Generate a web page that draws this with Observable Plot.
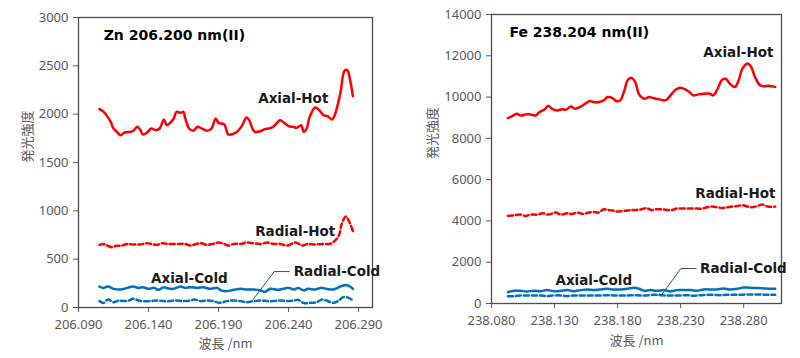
<!DOCTYPE html>
<html><head><meta charset="utf-8">
<script src="https://cdn.jsdelivr.net/npm/d3@7"></script>
<script src="https://cdn.jsdelivr.net/npm/@observablehq/plot@0.6"></script>
<style>body{margin:0;background:#fff}#wrap{display:flex;width:800px;height:358px}#wrap svg{overflow:visible}</style>
</head><body><div id="wrap"></div>
<script>
// ---------- Zn panel ----------
const znTitle = "Zn 206.200 nm(II)";
const znXTicks = [206.090, 206.140, 206.190, 206.240, 206.290];
const znYTicks = [0, 500, 1000, 1500, 2000, 2500, 3000];
const znAxialHotX = [206.105,206.108,206.110,206.113,206.115,206.117,206.120,206.123,206.127,206.129,206.132,206.134,206.136,206.139,206.142,206.145,206.148,206.151,206.153,206.155,206.158,206.160,206.163,206.165,206.166,206.169,206.172,206.175,206.178,206.182,206.185,206.188,206.190,206.194,206.197,206.201,206.204,206.207,206.210,206.212,206.214,206.216,206.220,206.223,206.226,206.229,206.234,206.236,206.240,206.243,206.246,206.249,206.251,206.253,206.255,206.259,206.262,206.265,206.268,206.271,206.273,206.277,206.280,206.282,206.284,206.286];
const znAxialHotY = [2052,2024,1990,1921,1852,1824,1783,1810,1817,1828,1869,1841,1790,1810,1852,1834,1852,1945,1886,1903,1955,2024,2014,2024,1972,1852,1828,1869,1852,1828,1852,1955,1910,1897,1790,1800,1828,1886,1966,1938,1859,1817,1824,1845,1852,1869,1938,1921,1876,1869,1859,1886,1817,1852,1966,2069,2041,1990,1979,1945,1990,2214,2448,2455,2352,2186];
const znRadialHotX = [206.105,206.108,206.111,206.114,206.117,206.121,206.125,206.129,206.134,206.139,206.142,206.146,206.150,206.153,206.158,206.163,206.166,206.170,206.173,206.177,206.182,206.186,206.190,206.194,206.197,206.201,206.206,206.210,206.215,206.220,206.225,206.229,206.234,206.239,206.245,206.250,206.254,206.259,206.264,206.269,206.272,206.276,206.278,206.281,206.283,206.286];
const znRadialHotY = [648,658,638,624,638,641,658,652,652,665,658,648,665,658,658,658,658,641,652,665,648,658,672,658,641,658,658,672,665,658,672,658,658,641,672,641,658,652,658,658,676,745,865,941,900,790];
const znAxialColdX = [206.105,206.108,206.111,206.115,206.120,206.125,206.129,206.133,206.136,206.140,206.144,206.147,206.151,206.154,206.158,206.163,206.166,206.170,206.175,206.179,206.184,206.189,206.192,206.196,206.201,206.206,206.210,206.215,206.220,206.223,206.227,206.232,206.236,206.240,206.244,206.247,206.251,206.254,206.259,206.263,206.267,206.272,206.277,206.281,206.284,206.286];
const znAxialColdY = [217,203,217,193,186,203,217,203,210,193,203,183,210,197,193,217,203,210,203,210,193,203,176,169,183,193,186,186,176,162,193,183,193,203,186,203,176,193,186,203,193,186,217,234,217,193];
const znRadialColdX = [206.105,206.108,206.111,206.115,206.119,206.122,206.126,206.129,206.133,206.136,206.141,206.146,206.151,206.155,206.160,206.165,206.170,206.173,206.177,206.182,206.186,206.191,206.196,206.201,206.206,206.210,206.215,206.220,206.225,206.229,206.234,206.239,206.244,206.247,206.251,206.255,206.260,206.264,206.267,206.272,206.276,206.279,206.283,206.286];
const znRadialColdY = [66,48,83,55,72,66,72,90,72,66,66,72,66,66,72,66,72,83,66,72,66,48,66,72,66,55,66,72,66,66,72,66,72,79,45,48,55,83,72,48,72,107,100,72];

// ---------- Fe panel ----------
const feTitle = "Fe 238.204 nm(II)";
const feXTicks = [238.080, 238.130, 238.180, 238.230, 238.280];
const feYTicks = [0, 2000, 4000, 6000, 8000, 10000, 12000, 14000];
const feAxialHotX = [238.093,238.096,238.100,238.103,238.107,238.111,238.115,238.118,238.122,238.125,238.128,238.132,238.136,238.139,238.143,238.146,238.151,238.155,238.158,238.161,238.165,238.169,238.172,238.176,238.179,238.182,238.185,238.188,238.191,238.194,238.197,238.201,238.205,238.208,238.212,238.217,238.219,238.222,238.226,238.230,238.234,238.237,238.240,238.244,238.248,238.253,238.256,238.259,238.263,238.266,238.269,238.273,238.276,238.279,238.283,238.286,238.289,238.293,238.296,238.300,238.303,238.305];
const feAxialHotY = [8978,9059,9189,9108,9157,9157,9108,9270,9400,9578,9432,9351,9416,9384,9546,9432,9546,9708,9805,9757,9757,9838,10000,9951,9805,9838,10243,10811,10941,10730,10130,9919,10000,9951,9903,9838,9870,10081,10357,10454,10357,10243,10081,10130,10162,10162,10081,10357,10843,10876,10649,10487,10811,11378,11622,11460,10973,10568,10519,10551,10519,10487];
const feRadialHotX = [238.093,238.098,238.103,238.107,238.111,238.116,238.121,238.125,238.131,238.135,238.140,238.144,238.148,238.153,238.157,238.161,238.165,238.169,238.172,238.176,238.180,238.184,238.188,238.191,238.195,238.199,238.203,238.207,238.211,238.215,238.219,238.223,238.227,238.231,238.235,238.239,238.243,238.247,238.251,238.255,238.259,238.263,238.267,238.271,238.275,238.279,238.283,238.287,238.291,238.295,238.299,238.305];
const feRadialHotY = [4242,4274,4306,4242,4306,4306,4371,4306,4404,4306,4371,4339,4404,4339,4404,4436,4404,4566,4533,4501,4452,4484,4501,4533,4533,4566,4614,4533,4566,4566,4533,4533,4598,4598,4598,4598,4598,4598,4663,4695,4663,4630,4663,4695,4727,4760,4695,4663,4727,4792,4695,4695];
const feAxialColdX = [238.093,238.098,238.103,238.108,238.114,238.119,238.124,238.129,238.135,238.140,238.145,238.151,238.156,238.161,238.166,238.172,238.177,238.182,238.188,238.193,238.197,238.201,238.206,238.211,238.217,238.222,238.227,238.232,238.238,238.243,238.248,238.254,238.259,238.264,238.269,238.275,238.280,238.285,238.291,238.296,238.301,238.305];
const feAxialColdY = [550,615,615,583,615,599,648,599,615,648,599,648,680,648,680,712,680,680,712,761,712,615,648,615,648,583,648,648,648,615,680,680,680,729,680,712,777,761,745,729,712,712];
const feRadialColdX = [238.093,238.098,238.103,238.108,238.114,238.119,238.124,238.129,238.135,238.140,238.145,238.151,238.156,238.161,238.166,238.172,238.177,238.182,238.188,238.193,238.198,238.203,238.209,238.214,238.219,238.224,238.230,238.235,238.240,238.246,238.251,238.256,238.262,238.267,238.272,238.277,238.283,238.288,238.293,238.299,238.305];
const feRadialColdY = [356,356,389,389,389,389,356,389,389,356,389,389,389,389,389,405,389,389,389,405,389,389,421,405,389,389,389,405,372,405,421,421,405,421,421,421,437,437,437,421,421];

const seriesNames = ["Axial-Hot", "Radial-Hot", "Axial-Cold", "Radial-Cold"];
const xLabel = "波長 /nm";
const yLabel = "発光強度";

// label anchor points (data units)
const znLabelPos = {title:[206.108, 2814], "Axial-Hot":[206.2434, 2162], "Radial-Hot":[206.2448, 786], "Axial-Cold":[206.1692, 300], "Radial-Cold":[206.2746, 372]};
const znLeader = [[206.2147, 83], [206.2298, 372], [206.2405, 372]];
const feLabelPos = {title:[238.0942, 13128], "Axial-Hot":[238.2758, 12158], "Radial-Hot":[238.2734, 5328], "Axial-Cold":[238.1611, 1114], "Radial-Cold":[238.2798, 1695]};
const feLeader = [[238.2145, 388], [238.2303, 1695], [238.2422, 1695]];

const zip = (xs, ys) => xs.map((x, i) => ({x, y: ys[i]}));
const RED = "#ff0000", BLUE = "#0070c0", AX = "#595959", TXT = "#1a1a1a";
const LATIN = "'DejaVu Sans', Verdana, sans-serif";
const CJK = "'Noto Sans CJK JP', 'Noto Sans', sans-serif";

function panel(o) {
  const lines = [
    {d: o.ah, stroke: RED, dash: null},
    {d: o.rh, stroke: RED, dash: "5,3"},
    {d: o.ac, stroke: BLUE, dash: null},
    {d: o.rc, stroke: BLUE, dash: "5,3"}
  ];
  const labels = seriesNames.map(n => ({t: n, x: o.pos[n][0], y: o.pos[n][1]}));
  return Plot.plot({
    width: 400, height: 358,
    marginLeft: o.ml, marginRight: o.mr, marginTop: o.mt, marginBottom: o.mb,
    style: {fontFamily: "'Noto Sans', sans-serif", fontSize: "13px", color: AX, background: "white", overflow: "visible"},
    x: {domain: o.xDomain, label: null},
    y: {domain: o.yDomain, label: null},
    marks: [
      Plot.axisX({ticks: o.xTicks, tickFormat: d3.format(".3f"), tickSize: 5, tickPadding: 7, label: null, fontSize: 13}),
      Plot.axisY({ticks: o.yTicks, tickFormat: d3.format("d"), tickSize: 5, tickPadding: 5, label: null, fontSize: 13}),
      Plot.frame({stroke: "#4d4d4d", strokeWidth: 1.3}),
      ...lines.map(l => Plot.line(l.d, {x: "x", y: "y", stroke: l.stroke, strokeWidth: 2.5, curve: "catmull-rom", strokeDasharray: l.dash})),
      Plot.line(o.leader, {x: d => d[0], y: d => d[1], stroke: "#2f5597", strokeWidth: 1}),
      Plot.text([o.title], {x: o.pos.title[0], y: o.pos.title[1], textAnchor: "start", fontWeight: "bold", fontSize: 14, fill: "#000", fontFamily: LATIN}),
      Plot.text(labels, {x: "x", y: "y", text: "t", textAnchor: "middle", fontWeight: "bold", fontSize: 13.5, fill: TXT, fontFamily: LATIN}),
      Plot.text([xLabel], {frameAnchor: "bottom", dy: o.xdy, fill: AX, fontSize: 13, fontFamily: CJK}),
      Plot.text([yLabel], {frameAnchor: "left", dx: o.ydx, rotate: -90, fill: AX, fontSize: 13, fontFamily: CJK})
    ]
  });
}

const wrap = document.getElementById("wrap");
wrap.appendChild(panel({
  ml: 78, mr: 28, mt: 17, mb: 51,
  xDomain: [206.090, 206.300], yDomain: [0, 3000], xTicks: znXTicks, yTicks: znYTicks,
  ah: zip(znAxialHotX, znAxialHotY), rh: zip(znRadialHotX, znRadialHotY),
  ac: zip(znAxialColdX, znAxialColdY), rc: zip(znRadialColdX, znRadialColdY),
  pos: znLabelPos, leader: znLeader, title: znTitle, xdy: 40, ydx: -51
}));
wrap.appendChild(panel({
  ml: 91, mr: 19, mt: 14, mb: 55,
  xDomain: [238.080, 238.310], yDomain: [0, 14000], xTicks: feXTicks, yTicks: feYTicks,
  ah: zip(feAxialHotX, feAxialHotY), rh: zip(feRadialHotX, feRadialHotY),
  ac: zip(feAxialColdX, feAxialColdY), rc: zip(feRadialColdX, feRadialColdY),
  pos: feLabelPos, leader: feLeader, title: feTitle, xdy: 41, ydx: -59
}));
</script>
</body></html>
